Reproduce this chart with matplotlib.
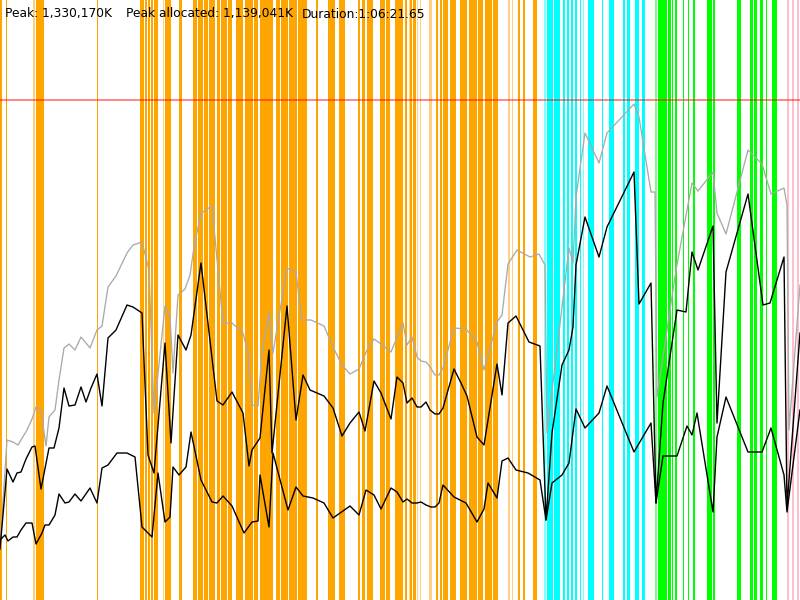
import matplotlib
matplotlib.use("Agg")
import matplotlib.pyplot as plt

# ---- data (time in sample units, memory in scaled units) ----
total_t = [0,7,13,18,27,32,36,41,46,49,55,59,64,69,75,81,86,90,97,102,108,116,127,133,139,142,149,154,165,170,173,178,185,190,194,201,212,223,232,243,248,252,258,262,269,273,287,296,302,311,324,333,342,350,359,367,374,381,391,403,407,412,417,421,426,430,435,439,443,454,466,477,484,497,502,508,517,530,539,545,547,569,573,576,585,599,607,634,639,651,655,657,676,692,698,713,717,726,748,762,771,784,787,789,800]
total_mem = [52,160,158,155,170,181,193,189,154,183,190,220,252,256,250,263,257,252,270,274,313,324,347,355,357,358,330,187,294,283,227,305,311,325,353,387,394,277,277,267,247,195,194,247,288,247,332,327,280,280,274,253,235,226,231,250,261,256,248,277,255,263,243,239,238,233,225,225,232,272,271,258,230,278,285,336,350,343,346,335,167,352,337,403,467,437,467,496,483,408,408,203,330,417,409,428,387,366,450,436,406,412,395,170,315]

used_t = [0,7,13,17,21,26,32,35,41,49,54,59,64,69,75,81,86,91,97,102,108,116,127,133,139,142,148,154,165,171,178,186,191,201,217,223,232,243,249,252,260,269,272,287,296,303,310,324,333,342,350,359,365,374,381,391,397,403,407,412,417,421,426,430,435,439,443,454,461,467,477,484,497,502,508,516,529,540,546,552,562,569,573,576,585,599,607,634,639,651,656,663,677,686,692,698,713,717,726,748,763,770,784,787,800]
used_mem = [51,131,118,127,128,141,153,154,111,152,152,172,212,194,195,213,198,212,226,194,262,270,295,293,289,287,145,127,257,157,265,250,265,337,199,195,208,187,134,150,162,250,147,294,180,225,210,204,192,164,177,188,169,219,207,181,223,217,197,202,193,193,198,190,186,186,192,231,217,204,163,155,236,205,277,284,258,254,80,167,235,250,273,335,383,343,373,428,296,317,97,197,290,288,348,330,374,177,328,406,295,297,343,93,267]

live_t = [0,5,8,13,17,21,26,32,36,42,45,49,55,59,65,69,75,81,90,97,102,108,117,127,135,142,152,158,165,170,173,179,186,191,201,212,217,223,232,244,252,258,260,269,273,288,296,303,313,324,333,350,359,366,374,381,391,397,403,407,412,417,421,426,431,435,439,443,454,460,466,477,484,488,497,502,508,516,528,540,546,552,562,569,576,585,599,607,634,651,656,663,677,687,692,697,713,717,726,748,762,771,784,787,800]
live_mem = [60,65,59,63,63,70,77,77,56,67,75,75,85,106,97,98,106,99,112,97,132,135,147,147,143,73,63,127,78,83,133,125,133,168,120,98,97,104,94,67,78,79,125,73,147,90,113,104,102,97,82,94,85,110,105,91,112,108,98,101,97,97,98,95,93,93,97,115,103,100,97,78,91,117,102,139,142,130,127,120,80,117,125,137,191,172,187,214,148,177,97,144,144,174,165,187,88,163,203,148,148,172,125,88,190]

limit_mem = 500

# GC events (start, end)
gc_orange = [(0,1.7),(6,7.3),(36,44),(96.7,97.7),(139.5,144),(145,146.8),(147.5,150),(150.7,153.2),(154,157.5),
             (164.5,170.7),(179.3,182),(193,196.5),(197.5,203),(204,207.5),(208.5,215),(216.7,220),(221,226.7),
             (228,231.7),(236,243),(245,252.7),(254,258),(260,273),(276,280),(281,288),(289,296.7),(298,306.7),
             (316,318),(328,335),(339,345),(358,360),(362,365),(367,373),(380,385),(386,390),(395,403),
             (405,407),(410,412),(413,416),(436,438),(440,442),(443,448),(450,456),(460,467),(469,477),
             (477.5,483),(485,492),(493,498),(518,520),(523,525),(533,537)]
gc_orange_light = [(33.3,35),(162.7,163.7),(408.5,409.5),(417,418),(420,421),(429,432),(508,510),(512,513)]
gc_cyan = [(547,553),(554,560),(563,564.5),(567,568.5),(571,572.5),(575,577),(580,581),(588,594),
           (602,603),(609,614),(623,625),(627,630),(635,639),(642,645)]
gc_cyan_light = [(544,546),(583,584)]
gc_green = [(658,667),(668,671),(672,673),(675,677),(683,684),(688,689),(693,695),(707,712),(713,714.5),
            (737,741),(750,753),(754,757),(760,763),(766,767),(772,777)]
gc_green_light = [(655,656.5)]
gc_pink = [(787,788.5),(792,793.5),(797,798.5)]

title_parts = ["Peak: 1,330,170K", "Peak allocated: 1,139,041K", "Duration:1:06:21.65"]
title_x = [5, 126, 302]

# ---- drawing ----
fig = plt.figure(figsize=(8, 6), dpi=100)
ax = fig.add_axes([0, 0, 1, 1])
ax.set_xlim(0, 800)
ax.set_ylim(0, 600)
ax.axis("off")

def spans(lst, color, alpha=1.0):
    for a, b in lst:
        ax.axvspan(a, b, color=color, alpha=alpha, lw=0, zorder=1)

spans(gc_orange, "#FFA500")
spans(gc_orange_light, "#FFA500", 0.5)
spans(gc_cyan, "#00FFFF")
spans(gc_cyan_light, "#00FFFF", 0.5)
spans(gc_green, "#00FF00")
spans(gc_green_light, "#00FF00", 0.5)
spans(gc_pink, "#FFC0CB")

ax.plot(total_t, total_mem, color="#aaaaaa", lw=0.95, zorder=3)
ax.plot(used_t, used_mem, color="black", lw=1.0, zorder=4)
ax.plot(live_t, live_mem, color="black", lw=1.0, zorder=4)
ax.axhline(limit_mem, color="red", alpha=0.55, lw=1.2, zorder=5)

for s, x in zip(title_parts, title_x):
    fig.text(x / 800, 1 - 14 / 600, s, fontsize=8.8, family="DejaVu Sans",
             color="black", va="center", ha="left", zorder=6)

fig.savefig("out.png", dpi=100)
